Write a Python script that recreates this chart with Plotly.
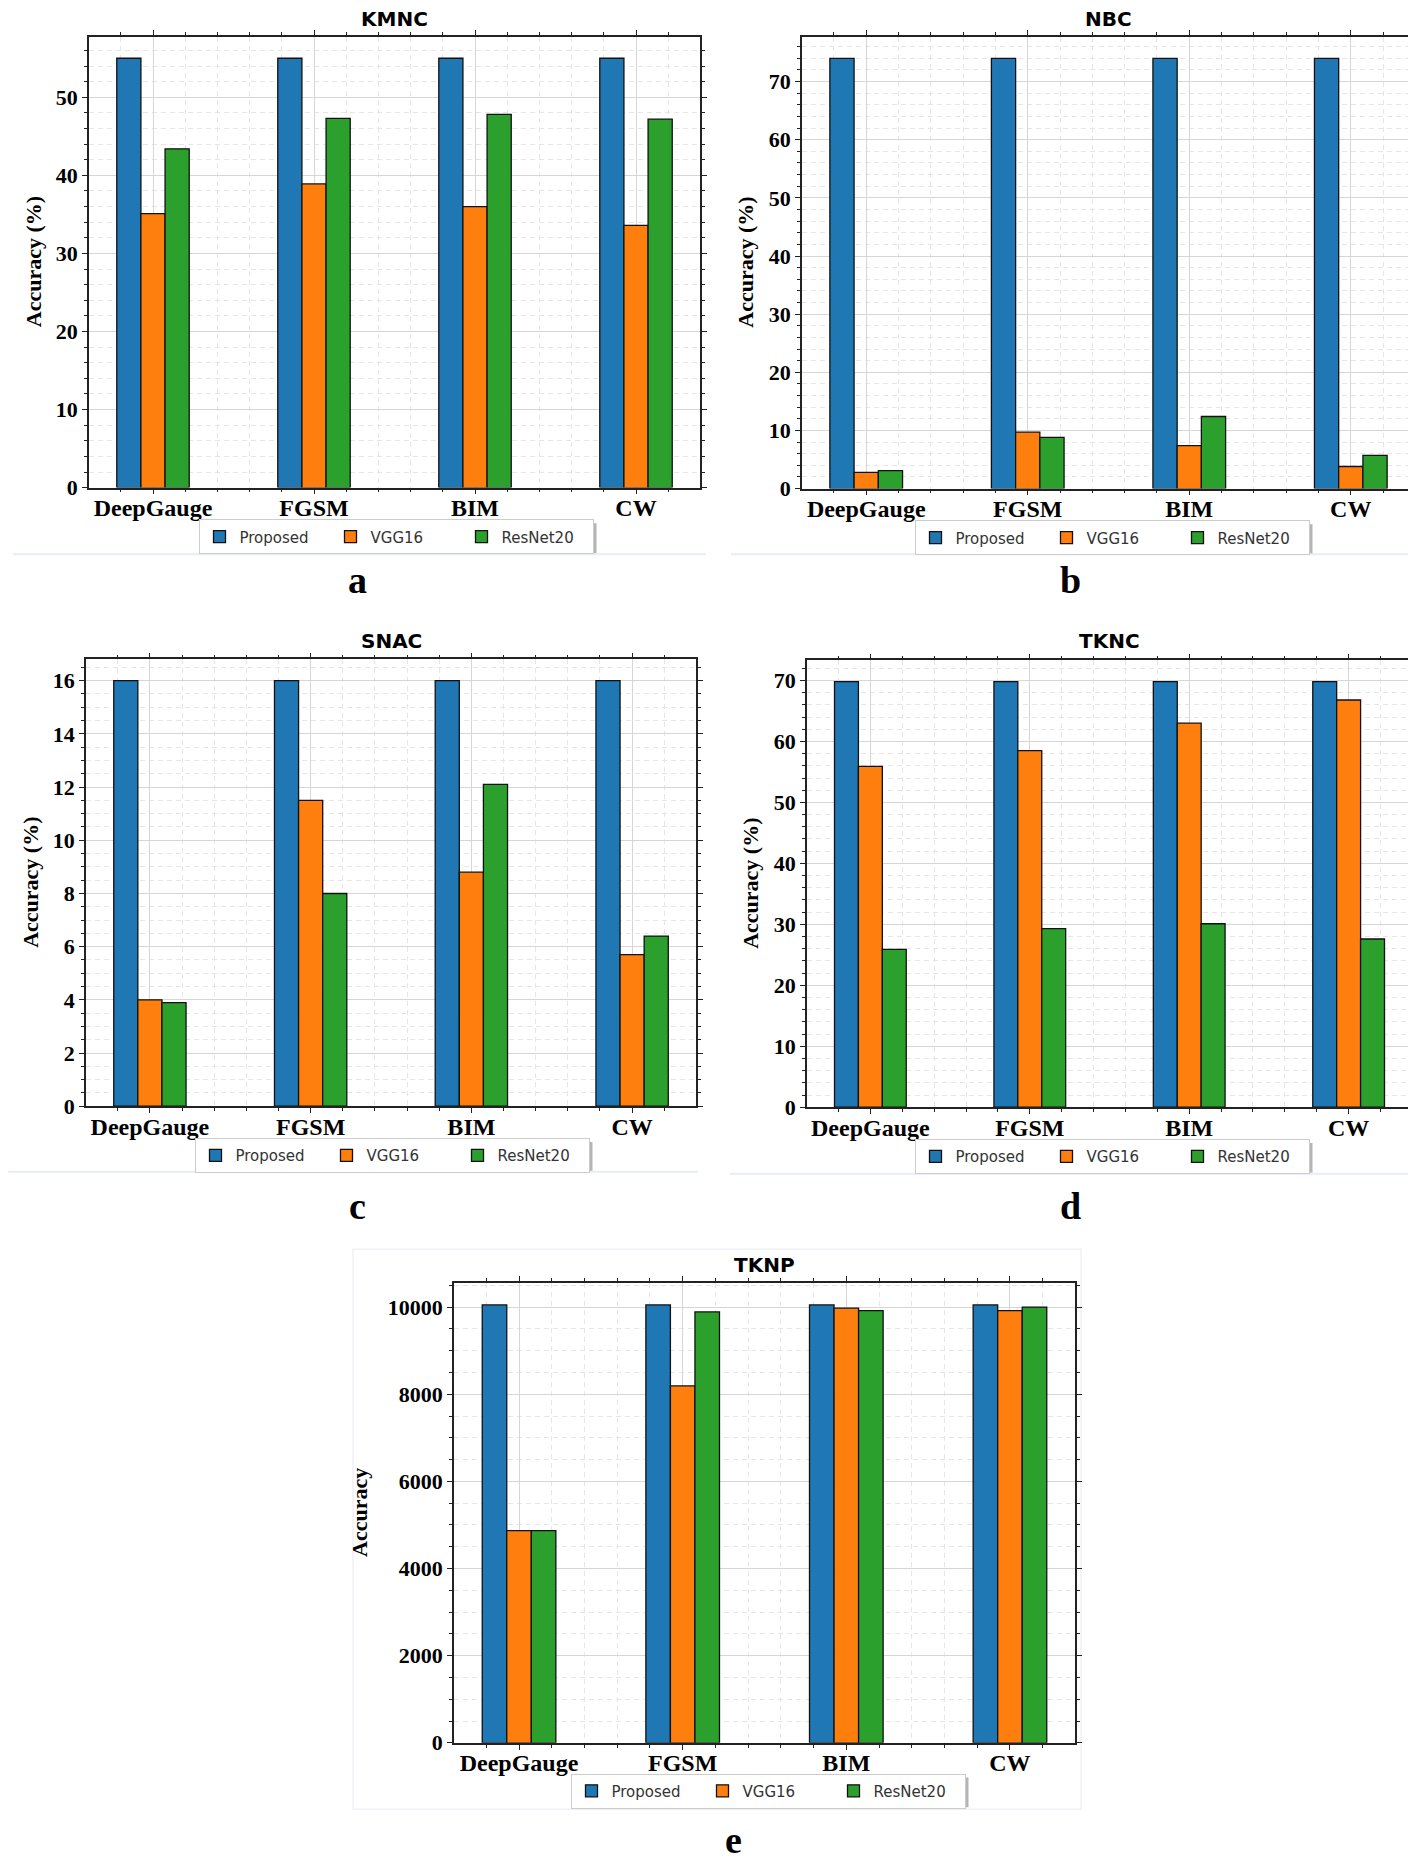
import plotly.graph_objects as go

W, H = 1416, 1859

categories = ["DeepGauge", "FGSM", "BIM", "CW"]
series_names = ["Proposed", "VGG16", "ResNet20"]
series_colors = ["#1f77b4", "#ff7f0e", "#2ca02c"]

# KMNC
kmnc_proposed = [55.0, 55.0, 55.0, 55.0]
kmnc_vgg16 = [35.1, 38.9, 36.0, 33.6]
kmnc_resnet20 = [43.4, 47.3, 47.8, 47.2]
# NBC
nbc_proposed = [74.0, 74.0, 74.0, 74.0]
nbc_vgg16 = [2.8, 9.7, 7.4, 3.8]
nbc_resnet20 = [3.1, 8.8, 12.4, 5.7]
# SNAC
snac_proposed = [16.0, 16.0, 16.0, 16.0]
snac_vgg16 = [4.0, 11.5, 8.8, 5.7]
snac_resnet20 = [3.9, 8.0, 12.1, 6.4]
# TKNC
tknc_proposed = [69.8, 69.8, 69.8, 69.8]
tknc_vgg16 = [55.9, 58.5, 63.0, 66.8]
tknc_resnet20 = [25.9, 29.3, 30.1, 27.6]
# TKNP
tknp_proposed = [10050, 10050, 10050, 10050]
tknp_vgg16 = [4870, 8190, 9975, 9920]
tknp_resnet20 = [4870, 9890, 9920, 10000]

panels = [
    dict(title="KMNC", letter="a", ylabel="Accuracy (%)",
         data=[kmnc_proposed, kmnc_vgg16, kmnc_resnet20], dtick=10, minor=2,
         box=(81, 692, 29, 483), leg=(388, 515), ttl_y=11, lab_x=25, let=(349, 576)),
    dict(title="NBC", letter="b", ylabel="Accuracy (%)",
         data=[nbc_proposed, nbc_vgg16, nbc_resnet20], dtick=10, minor=2,
         box=(794, 1407, 29, 484), leg=(1104, 516), ttl_y=11, lab_x=738, let=(1062, 576)),
    dict(title="SNAC", letter="c", ylabel="Accuracy (%)",
         data=[snac_proposed, snac_vgg16, snac_resnet20], dtick=2, minor=0.5,
         box=(78, 688, 656, 1106), leg=(384, 1138), ttl_y=637, lab_x=23, let=(349, 1206)),
    dict(title="TKNC", letter="d", ylabel="Accuracy (%)",
         data=[tknc_proposed, tknc_vgg16, tknc_resnet20], dtick=10, minor=2,
         box=(799, 1404, 657, 1107), leg=(1104, 1139), ttl_y=637, lab_x=743, let=(1062, 1206)),
    dict(title="TKNP", letter="e", ylabel="Accuracy",
         data=[tknp_proposed, tknp_vgg16, tknp_resnet20], dtick=2000, minor=500,
         box=(446, 1067, 1284, 1747), leg=(760, 1778), ttl_y=1266, lab_x=352, let=(725, 1845)),
]

bar_w = 0.15
offsets = [-0.225, -0.075, 0.075]
xs = list(range(len(categories)))

SERIF = "Liberation Serif, Times New Roman, serif"
SANS = "DejaVu Sans, sans-serif"

LEG_ENTRY = 86
LEG_W = 3 * LEG_ENTRY + 135   # approximate rendered legend width (px)
LEG_H = 30                    # approximate rendered legend height (px)

fig = go.Figure()
annotations = []
shapes = []
layout = {}


def px(x):
    return x / W


def py(y):
    return 1 - y / H


for i, p in enumerate(panels):
    n = "" if i == 0 else str(i + 1)
    xa, ya = "x" + n, "y" + n
    leg = "legend" + n
    for s in range(3):
        fig.add_trace(go.Bar(
            x=xs, y=p["data"][s], width=bar_w, offset=offsets[s],
            name=series_names[s],
            marker=dict(color=series_colors[s], line=dict(color="#111111", width=1.3)),
            xaxis=xa, yaxis=ya, legend=leg, showlegend=True,
        ))
    l, r, t, b = p["box"]
    ymax = max(max(d) for d in p["data"]) * 1.05
    layout["xaxis" + n] = dict(
        domain=[px(l), px(r)], anchor=ya, range=[-0.3975, 3.3975],
        tickmode="array", tickvals=xs, ticktext=categories,
        tickfont=dict(family=SERIF, size=24, color="#000", weight="bold"),
        ticklabelstandoff=-7,
        showline=True, linecolor="#222", linewidth=1.5, mirror="allticks",
        ticks="outside", ticklen=5, tickwidth=1.3, tickcolor="#222",
        showgrid=True, gridcolor="#d6d6d6", gridwidth=1.3,
        minor=dict(dtick=0.2, tick0=0, showgrid=True, gridcolor="#e6e6e6",
                   griddash="5px,4px", gridwidth=1, ticks="outside", ticklen=3,
                   tickcolor="#222"),
        zeroline=False, fixedrange=True,
    )
    layout["yaxis" + n] = dict(
        domain=[py(b), py(t)], anchor=xa, range=[0, ymax],
        dtick=p["dtick"], tick0=0, tickformat="d",
        tickfont=dict(family=SERIF, size=22, color="#000", weight="bold"),
        showline=True, linecolor="#222", linewidth=1.5, mirror="allticks",
        ticks="outside", ticklen=5, tickwidth=1.3, tickcolor="#222",
        showgrid=True, gridcolor="#d6d6d6", gridwidth=1.3,
        minor=dict(dtick=p["minor"], tick0=0, showgrid=True, gridcolor="#e6e6e6",
                   griddash="5px,4px", gridwidth=1, ticks="outside", ticklen=3,
                   tickcolor="#222"),
        zeroline=False, fixedrange=True,
    )
    lx, ly = p["leg"]
    layout[leg] = dict(
        orientation="h", x=px(lx), y=py(ly), xanchor="center", yanchor="top",
        xref="paper", yref="paper",
        font=dict(family=SANS, size=15, color="#333"),
        bgcolor="#ffffff", bordercolor="#cccccc", borderwidth=1,
        entrywidth=LEG_ENTRY, entrywidthmode="pixels", traceorder="normal",
        itemclick=False, itemdoubleclick=False,
    )
    # legend drop shadow (right and bottom edges)
    shapes.append(dict(type="rect", xref="paper", yref="paper", layer="above",
                       x0=px(lx - LEG_W / 2 + 4), x1=px(lx + LEG_W / 2 + 4),
                       y0=py(ly + LEG_H + 4), y1=py(ly + 4),
                       line=dict(width=0), fillcolor="rgba(90,90,90,0.45)"))
    annotations.append(dict(
        text="<b>%s</b>" % p["title"], x=px((l + r) / 2), y=py(p["ttl_y"]),
        xref="paper", yref="paper", showarrow=False, xanchor="center", yanchor="middle",
        font=dict(family=SANS, size=20, color="#000"),
    ))
    annotations.append(dict(
        text="<b>%s</b>" % p["ylabel"], x=px(p["lab_x"]), y=py((t + b) / 2),
        xref="paper", yref="paper", showarrow=False, xanchor="center", yanchor="middle",
        textangle=-90, font=dict(family=SERIF, size=22, color="#000"),
    ))
    annotations.append(dict(
        text="<b>%s</b>" % p["letter"], x=px(p["let"][0]), y=py(p["let"][1]),
        xref="paper", yref="paper", showarrow=False, xanchor="center", yanchor="middle",
        font=dict(family=SERIF, size=38, color="#000"),
    ))

# faint panel separator lines (from the source image)
for (x0, x1, y0) in [(5, 698, 550), (723, 1416, 550), (0, 690, 1172), (722, 1416, 1174)]:
    shapes.append(dict(type="line", xref="paper", yref="paper",
                       x0=px(x0), x1=px(x1), y0=py(y0), y1=py(y0),
                       line=dict(color="#e6edf7", width=2)))
shapes.append(dict(type="rect", xref="paper", yref="paper",
                   x0=px(345), x1=px(1073), y0=py(1814), y1=py(1250),
                   line=dict(color="#eef1f6", width=1.5), fillcolor="rgba(0,0,0,0)",
                   layer="below"))

fig.update_layout(
    width=W, height=H, margin=dict(l=0, r=0, t=0, b=0),
    paper_bgcolor="white", plot_bgcolor="white",
    barmode="overlay", annotations=annotations, shapes=shapes,
    **layout,
)

fig.write_html("out.html")
